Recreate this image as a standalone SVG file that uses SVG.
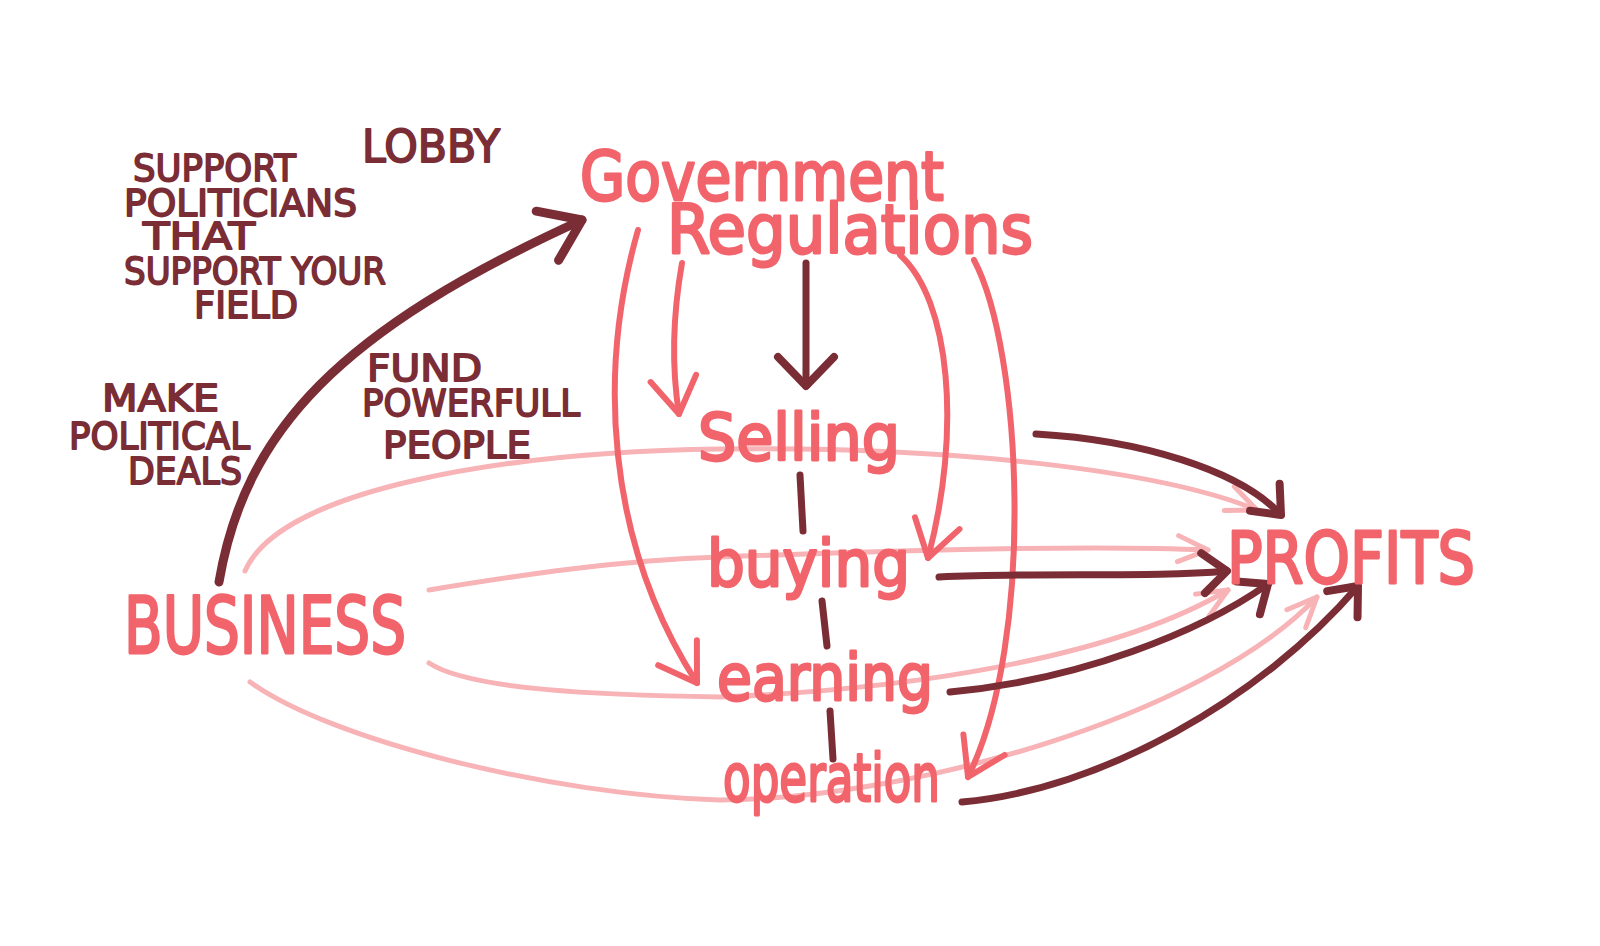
<svg xmlns="http://www.w3.org/2000/svg" width="1600" height="946" viewBox="0 0 1600 946">
<style>
.bg{fill:#ffffff}
.dk{fill:none;stroke:#7b2d35;stroke-linecap:round;stroke-linejoin:round}
.cr{fill:none;stroke:#f2646b;stroke-linecap:round;stroke-linejoin:round}
.lt{fill:none;stroke:#f7b3b6;stroke-linecap:round;stroke-linejoin:round}
.tdk{font-family:"DejaVu Sans","Liberation Sans",sans-serif;fill:#7b2d35;stroke:#7b2d35;stroke-width:1.8;stroke-linejoin:round}
.tcr{font-family:"DejaVu Sans","Liberation Sans",sans-serif;fill:#f2646b;stroke:#f2646b;stroke-width:2.8;stroke-linejoin:round}
</style>
<defs>
<marker id="m-big" markerUnits="userSpaceOnUse" markerWidth="120" markerHeight="120" viewBox="-60 -60 120 120" refX="0" refY="0" orient="auto" overflow="visible">
<path d="M -38 -27 L 0 0 L -38 27" fill="none" stroke="#7b2d35" stroke-width="9" stroke-linecap="round" stroke-linejoin="round"/>
</marker>
<marker id="m-dark" markerUnits="userSpaceOnUse" markerWidth="80" markerHeight="80" viewBox="-40 -40 80 80" refX="0" refY="0" orient="auto" overflow="visible">
<path d="M -24 -20 L 0 0 L -24 20" fill="none" stroke="#7b2d35" stroke-width="8" stroke-linecap="round" stroke-linejoin="round"/>
</marker>
<marker id="m-dark-lg" markerUnits="userSpaceOnUse" markerWidth="80" markerHeight="80" viewBox="-40 -40 80 80" refX="0" refY="0" orient="auto" overflow="visible">
<path d="M -29 -28 L 0 0 L -29 28" fill="none" stroke="#7b2d35" stroke-width="8" stroke-linecap="round" stroke-linejoin="round"/>
</marker>
<marker id="m-coral" markerUnits="userSpaceOnUse" markerWidth="100" markerHeight="100" viewBox="-50 -50 100 100" refX="0" refY="0" orient="auto" overflow="visible">
<path d="M -36 -23 L 0 0 L -36 23" fill="none" stroke="#f2646b" stroke-width="6" stroke-linecap="round" stroke-linejoin="round"/>
</marker>
<marker id="m-light" markerUnits="userSpaceOnUse" markerWidth="80" markerHeight="80" viewBox="-40 -40 80 80" refX="0" refY="0" orient="auto" overflow="visible">
<path d="M -30 -13 L 0 0 L -30 13" fill="none" stroke="#f7b3b6" stroke-width="5" stroke-linecap="round" stroke-linejoin="round"/>
</marker>
</defs>
<rect class="bg" x="0" y="0" width="1600" height="946"/>

<g id="connectors">
  <path class="lt" stroke-width="5" d="M 245 571 C 280 490, 500 452, 720 449 C 950 446, 1160 470, 1257 510" marker-end="url(#m-light)"/>
  <path class="lt" stroke-width="5" d="M 429 590 C 520 575, 620 560, 720 557 C 900 550, 1100 545, 1208 550" marker-end="url(#m-light)"/>
  <path class="lt" stroke-width="5" d="M 429 663 C 470 690, 600 695, 720 697 C 900 690, 1110 660, 1228 590" marker-end="url(#m-light)"/>
  <path class="lt" stroke-width="5" d="M 250 682 C 330 740, 550 795, 720 800 C 900 800, 1200 720, 1317 597" marker-end="url(#m-light)"/>

  <path class="cr" stroke-width="6" d="M 638 230 C 598 370, 605 540, 697 683" marker-end="url(#m-coral)"/>
  <path class="cr" stroke-width="6" d="M 682 263 C 672 320, 672 370, 679 414" marker-end="url(#m-coral)"/>
  <path class="cr" stroke-width="6" d="M 900 255 C 950 300, 962 430, 928 558" marker-end="url(#m-coral)"/>
  <path class="cr" stroke-width="6" d="M 974 260 C 1022 350, 1036 640, 968 777" marker-end="url(#m-coral)"/>

  <path class="dk" stroke-width="9" d="M 219 582 C 245 430, 340 330, 582 220" marker-end="url(#m-big)"/>
  <path class="dk" stroke-width="7" d="M 806 263 L 806 386" marker-end="url(#m-dark-lg)"/>
  <path class="dk" stroke-width="7" d="M 1036 434 C 1140 440, 1240 470, 1281 515" marker-end="url(#m-dark)"/>
  <path class="dk" stroke-width="7" d="M 939 577 C 1050 572, 1150 578, 1227 571" marker-end="url(#m-dark)"/>
  <path class="dk" stroke-width="7" d="M 950 692 C 1080 680, 1200 632, 1268 584" marker-end="url(#m-dark)"/>
  <path class="dk" stroke-width="7" d="M 962 802 C 1100 790, 1260 700, 1358 586" marker-end="url(#m-dark)"/>

  <path class="dk" stroke-width="7" d="M 800 475 L 803 531"/>
  <path class="dk" stroke-width="7" d="M 822 601 L 827 646"/>
  <path class="dk" stroke-width="7" d="M 830 711 L 833 759"/>
</g>

<g id="node-government">
  <text class="tcr" font-size="68"><tspan x="580" y="200" textLength="364" lengthAdjust="spacingAndGlyphs">Government</tspan><tspan x="667" y="253" textLength="366" lengthAdjust="spacingAndGlyphs">Regulations</tspan></text>
</g>
<g id="node-business">
  <text class="tcr" x="124" y="653" font-size="78" textLength="282" lengthAdjust="spacingAndGlyphs">BUSINESS</text>
</g>
<g id="node-profits">
  <text class="tcr" x="1227" y="583" font-size="72" textLength="248" lengthAdjust="spacingAndGlyphs">PROFITS</text>
</g>
<g id="node-selling">
  <text class="tcr" x="698" y="460" font-size="64" textLength="202" lengthAdjust="spacingAndGlyphs">Selling</text>
</g>
<g id="node-buying">
  <text class="tcr" x="707" y="586" font-size="64" textLength="203" lengthAdjust="spacingAndGlyphs">buying</text>
</g>
<g id="node-earning">
  <text class="tcr" x="717" y="700" font-size="64" textLength="216" lengthAdjust="spacingAndGlyphs">earning</text>
</g>
<g id="node-operation">
  <text class="tcr" x="723" y="801" font-size="66" textLength="217" lengthAdjust="spacingAndGlyphs">operation</text>
</g>

<g id="label-lobby">
  <text class="tdk" x="362" y="162" font-size="44" textLength="138" lengthAdjust="spacingAndGlyphs">LOBBY</text>
</g>
<g id="label-support">
  <text class="tdk" font-size="38"><tspan x="133" y="181" textLength="163" lengthAdjust="spacingAndGlyphs">SUPPORT</tspan><tspan x="124" y="216" textLength="233" lengthAdjust="spacingAndGlyphs">POLITICIANS</tspan><tspan x="143" y="249" textLength="112" lengthAdjust="spacingAndGlyphs">THAT</tspan><tspan x="124" y="284" textLength="262" lengthAdjust="spacingAndGlyphs">SUPPORT YOUR</tspan><tspan x="194" y="318" textLength="104" lengthAdjust="spacingAndGlyphs">FIELD</tspan></text>
</g>
<g id="label-fund">
  <text class="tdk" font-size="38"><tspan x="367" y="381" textLength="115" lengthAdjust="spacingAndGlyphs">FUND</tspan><tspan x="362" y="416" textLength="218" lengthAdjust="spacingAndGlyphs">POWERFULL</tspan><tspan x="383" y="458" textLength="148" lengthAdjust="spacingAndGlyphs">PEOPLE</tspan></text>
</g>
<g id="label-deals">
  <text class="tdk" font-size="38"><tspan x="102" y="411" textLength="117" lengthAdjust="spacingAndGlyphs">MAKE</tspan><tspan x="69" y="449" textLength="181" lengthAdjust="spacingAndGlyphs">POLITICAL</tspan><tspan x="128" y="484" textLength="114" lengthAdjust="spacingAndGlyphs">DEALS</tspan></text>
</g>
</svg>
